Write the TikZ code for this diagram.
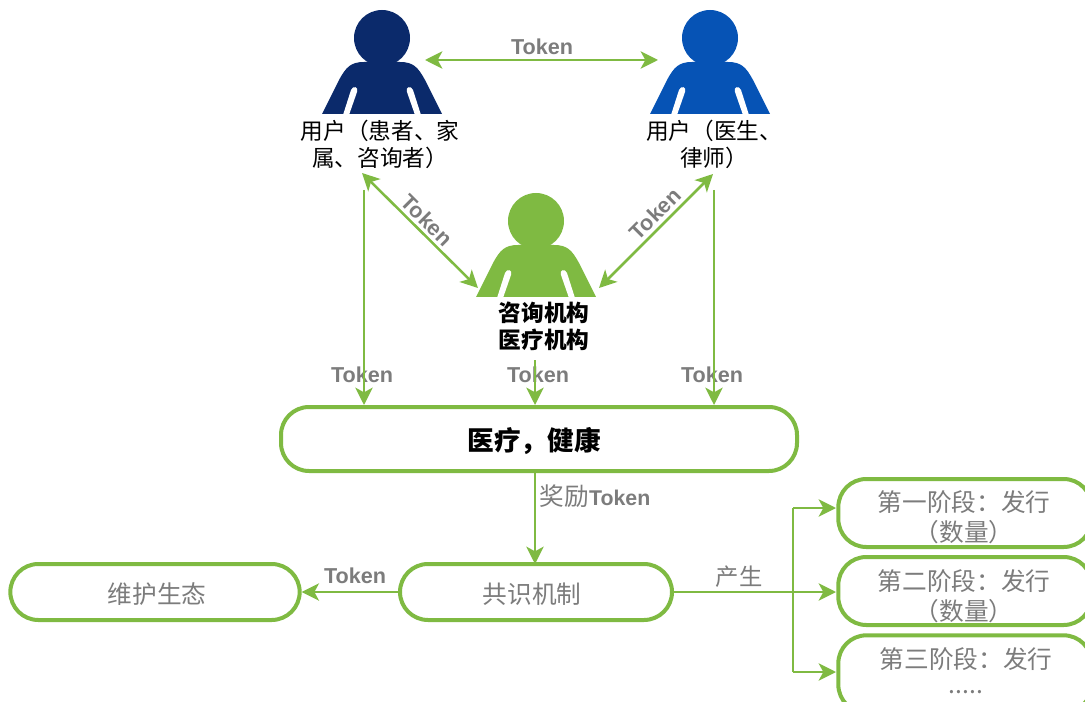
\documentclass[tikz,border=0pt]{standalone}
\usepackage{fontspec}
\setmainfont{Liberation Sans}
\newfontfamily\cjk{Noto Sans CJK SC}
\usetikzlibrary{arrows.meta}
\definecolor{lgreen}{HTML}{7FBA42}
\definecolor{navy}{HTML}{0B2A6B}
\definecolor{midblue}{HTML}{0653B5}
\definecolor{tgray}{HTML}{7C7C7C}
\tikzset{
  x=0.75pt,y=-0.75pt,
  link/.style={draw=lgreen,line width=1.9pt,-{Stealth[length=13pt,width=13pt,inset=3.5pt]}},
  dlink/.style={draw=lgreen,line width=1.9pt,{Stealth[length=13pt,width=13pt,inset=3.5pt]}-{Stealth[length=13pt,width=13pt,inset=3.5pt]}},
  plain/.style={draw=lgreen,line width=1.9pt},
  tok/.style={font=\fontsize{16.2}{18}\selectfont\bfseries,text=tgray,inner sep=0pt},
  who/.style={font=\cjk\fontsize{17}{20.2}\selectfont,text=black,align=center,inner sep=0pt},
  pill/.style={draw=lgreen,line width=3pt,rounded corners=21pt,fill=white,inner sep=0pt},
  boxtext/.style={font=\cjk\fontsize{18.5}{22.5}\selectfont,text=tgray,align=center,inner sep=0pt},
  person/.pic={
    \fill[pic actions] (0,-76) circle[radius=28];
    \fill[pic actions] (-60,0) -- (-43,-34) .. controls (-36,-47) and (-31,-52) .. (-18,-52)
       -- (18,-52) .. controls (31,-52) and (36,-47) .. (43,-34) -- (60,0) -- cycle;
    \fill[white] (-39,1) -- (-31,-24) .. controls (-29,-29) and (-23,-27) .. (-25,-22) -- (-33,1) -- cycle;
    \fill[white] (39,1) -- (31,-24) .. controls (29,-29) and (23,-27) .. (25,-22) -- (33,1) -- cycle;
  }
}
\begin{document}
\begin{tikzpicture}
\useasboundingbox (0,0) rectangle (1085,702);
\clip (0,0) rectangle (1085,702);
% people
\pic[fill=navy] at (382,114) {person};
\pic[fill=midblue] at (710,114) {person};
\pic[fill=lgreen] at (536,297) {person};
% people labels
\node[who] (u1) at (380,144) {用户（患者、家\\属、咨询者）};
\node[who] (u2) at (714,144) {用户（医生、\\律师）};
\node[who,font=\cjk\bfseries\fontsize{17}{20.2}\selectfont] (org) at (544,326) {咨询机构\\医疗机构};
% token labels
\node[tok] (t0) at (542,47) {Token};
\node[tok,rotate=-45] (t1) at (427,220) {Token};
\node[tok,rotate=45] (t2) at (655,214) {Token};
\node[tok] (t3) at (362,375) {Token};
\node[tok] (t4) at (538,375) {Token};
\node[tok] (t5) at (712,375) {Token};
\node[tok] (t6) at (355,576) {Token};
\node[tok,font=\fontsize{16}{18}\selectfont] (t7) at (595,496) {{\cjk\fontsize{18.5}{20}\selectfont 奖励}{\bfseries Token}};
\node[font=\cjk\fontsize{17.5}{20}\selectfont,text=tgray,inner sep=0pt] (t8) at (739,577) {产生};
% boxes
\node[pill,minimum width=387pt,minimum height=48pt] (health) at (539,439) {};
\node[boxtext,font=\cjk\bfseries\fontsize{20}{24}\selectfont,text=black] (healtht) at (534,441) {医疗，健康};
\node[pill,minimum width=204pt,minimum height=42pt] (cons) at (536,592) {};
\node[boxtext] (const) at (532,594) {共识机制};
\node[pill,minimum width=217pt,minimum height=42pt] (eco) at (155,592) {};
\node[boxtext] (ecot) at (157,594) {维护生态};
\node[pill,minimum width=190pt,minimum height=51pt] (s1) at (965,513) {};
\node[boxtext] (s1t) at (964,517) {第一阶段：发行\\（数量）};
\node[pill,minimum width=190pt,minimum height=51pt] (s2) at (965,591) {};
\node[boxtext] (s2t) at (964,596) {第二阶段：发行\\（数量）};
\node[pill,minimum width=190pt,minimum height=58pt] (s3) at (965,674) {};
\node[boxtext] (s3t) at (966,659) {第三阶段：发行};
\node[boxtext] (s3d) at (966,692) {.....};
% free ends
\coordinate (hl) at (425,60);
\coordinate (hr) at (658,60);
\coordinate (dla) at (362,173);
\coordinate (dlb) at (478,288);
\coordinate (dra) at (713,174);
\coordinate (drb) at (599,288);
\coordinate (v1) at (364,190);
\coordinate (v1e) at (364,405);
\coordinate (v2) at (535,360);
\coordinate (v2e) at (535,405);
\coordinate (v3) at (714,190);
\coordinate (v3e) at (714,405);
\coordinate (top) at (793,508);
\coordinate (bot) at (793,672);
\coordinate (s1e) at (836,508);
\coordinate (s2e) at (836,592);
\coordinate (s3e) at (836,672);
\coordinate (rw) at (535,470);
\coordinate (rwe) at (535,564);
% connectors
\draw[dlink] (hl) -- (hr);
\draw[dlink] (dla) -- (dlb);
\draw[dlink] (dra) -- (drb);
\draw[link] (v1) -- (v1e);
\draw[link] (v2) -- (v2e);
\draw[link] (v3) -- (v3e);
\draw[link] (rw) -- (rwe);
\draw[link] (cons.west) -- (eco.east);
\draw[link] (cons.east) -- (s2e);
\draw[plain] (top) -- (bot);
\draw[link] (top) -- (s1e);
\draw[link] (bot) -- (s3e);
\end{tikzpicture}
\end{document}
